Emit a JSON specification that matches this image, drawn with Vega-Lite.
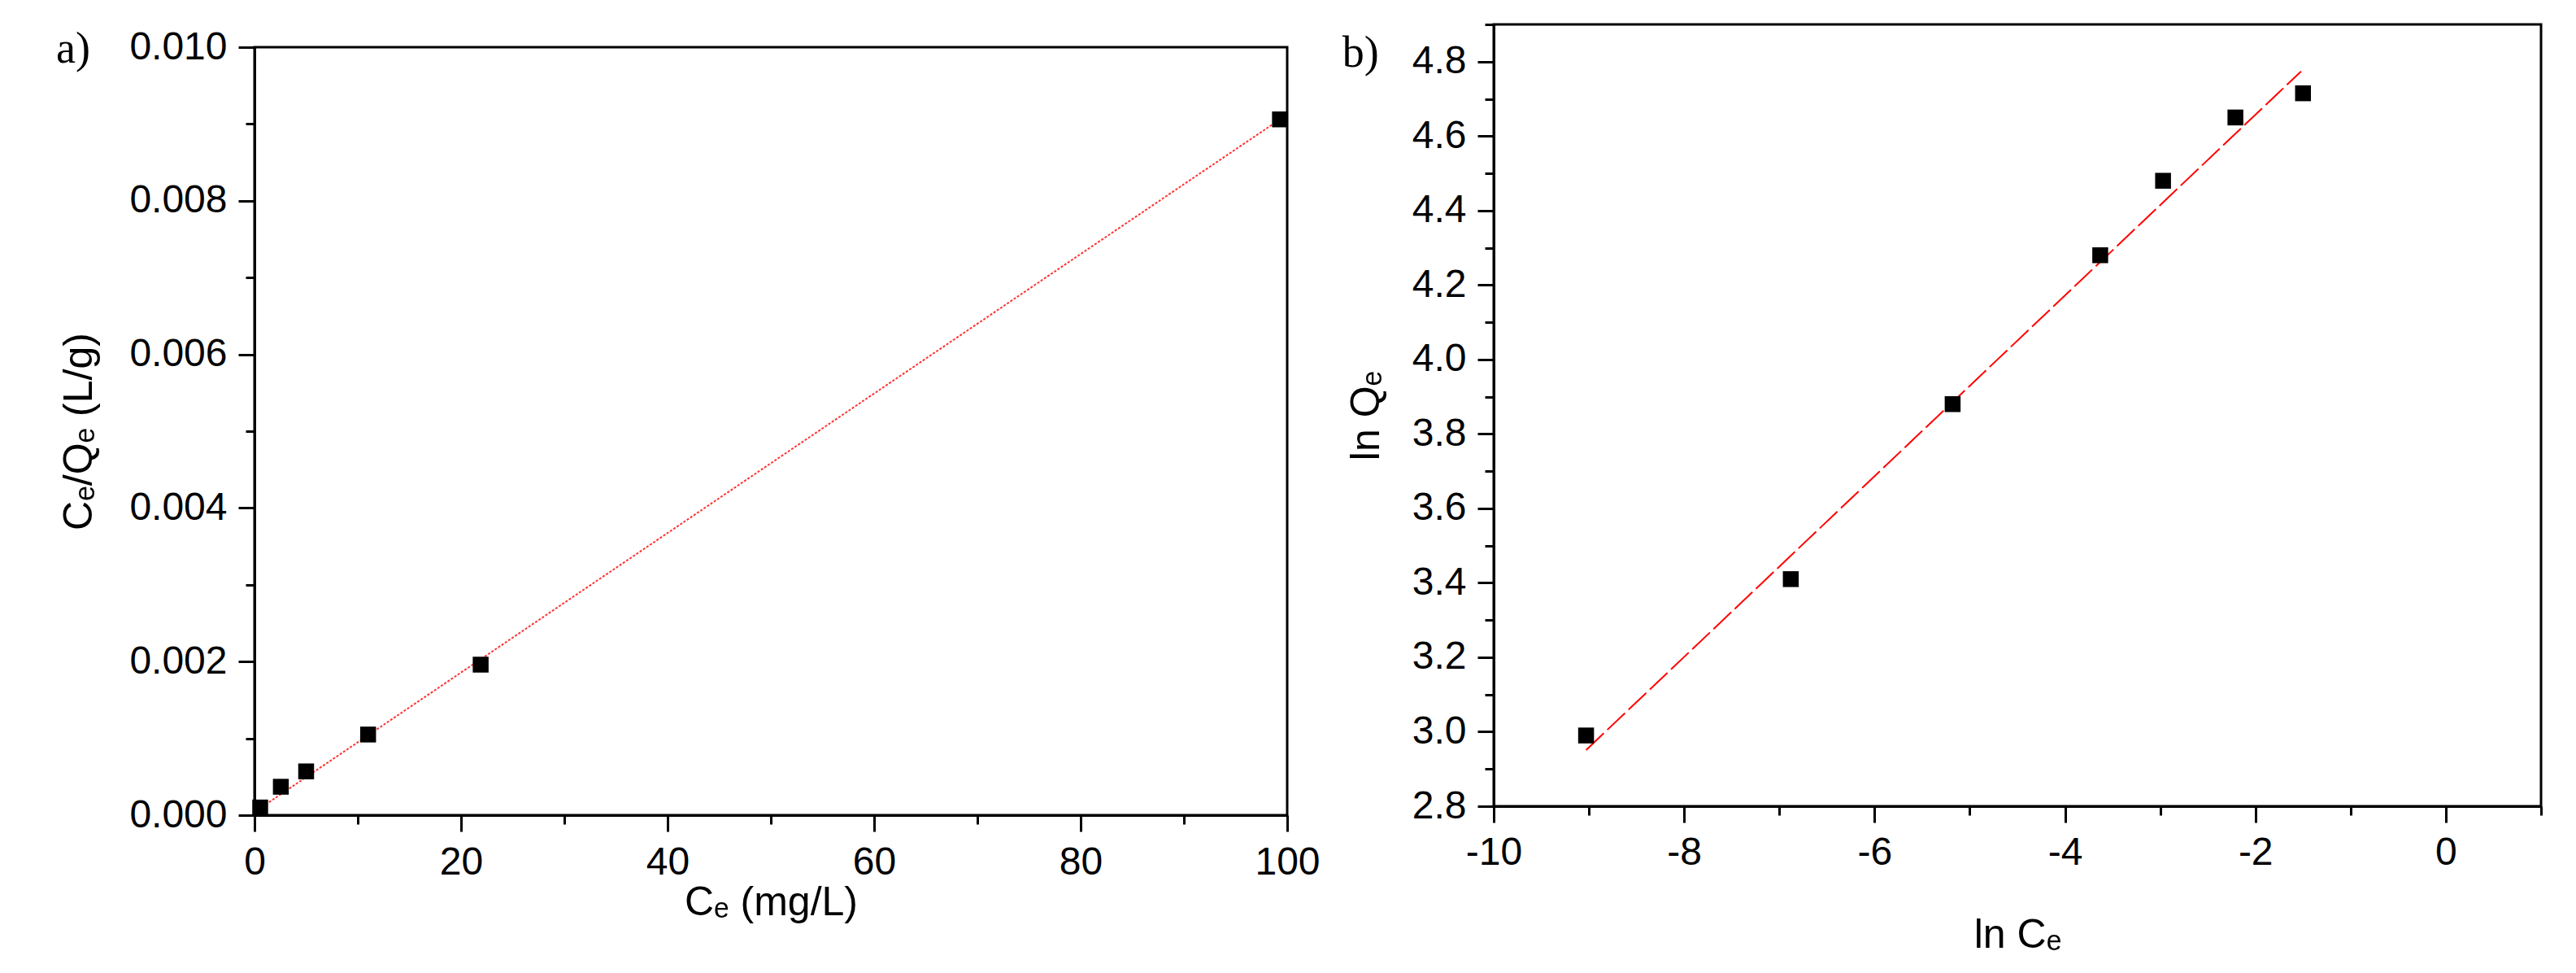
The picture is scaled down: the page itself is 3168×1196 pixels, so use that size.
{
  "$schema": "https://vega.github.io/schema/vega-lite/v6.json",
  "background": "white",
  "padding": {"left": 67, "top": 4, "right": 5, "bottom": 5},
  "spacing": 24,
  "config": {
    "view": {"stroke": "black", "strokeWidth": 3},
    "axis": {
      "labelFont": "Liberation Sans", "titleFont": "Liberation Sans",
      "labelFontSize": 48, "titleFontSize": 50, "titleFontWeight": "normal",
      "labelColor": "black", "titleColor": "black", "tickColor": "black",
      "domainColor": "black", "domainWidth": 3, "tickWidth": 3, "grid": false,
      "labelFlush": false, "labelOverlap": false
    }
  },
  "hconcat": [
    {
      "spacing": 0,
      "vconcat": [
        {
          "width": 1270, "height": 2,
          "view": {"stroke": null},
          "data": {"values": [{"gap": 0}]},
          "mark": {"type": "point", "opacity": 0, "size": 1},
          "encoding": {}
        },
        {
          "width": 1270, "height": 944,
          "layer": [
            {
              "data": {"values": [{"ce": 0.1, "cq": 0.00005}, {"ce": 99.3, "cq": 0.00906}]},
              "mark": {"type": "line", "color": "#ff3333", "strokeWidth": 2, "strokeDash": [3, 2]},
              "encoding": {
                "x": {"field": "ce", "type": "quantitative",
                  "scale": {"domain": [0, 100], "nice": false, "zero": false},
                  "axis": {"title": "Cₑ (mg/L)", "values": [0,10,20,30,40,50,60,70,80,90,100], "format": "d",
                    "labelExpr": "datum.value % 20 === 0 ? datum.label : ''",
                    "tickSize": {"condition": {"test": "datum.value % 20 !== 0", "value": 11}, "value": 20},
                    "labelPadding": 14, "titlePadding": 0}},
                "y": {"field": "cq", "type": "quantitative",
                  "scale": {"domain": [0, 0.01], "nice": false, "zero": false},
                  "axis": {"title": "Cₑ/Qₑ (L/g)", "values": [0,0.001,0.002,0.003,0.004,0.005,0.006,0.007,0.008,0.009,0.01], "format": ".3f",
                    "labelExpr": "round(datum.value*1000) % 2 === 0 ? datum.label : ''",
                    "tickSize": {"condition": {"test": "round(datum.value*1000) % 2 !== 0", "value": 11}, "value": 20},
                    "labelPadding": 14, "titlePadding": 36}}
              }
            },
            {
              "data": {"values": [
                {"ce": 0.55, "cq": 0.0001},
                {"ce": 2.55, "cq": 0.00037},
                {"ce": 5.0, "cq": 0.00057},
                {"ce": 11.0, "cq": 0.00105},
                {"ce": 21.9, "cq": 0.00196},
                {"ce": 99.3, "cq": 0.00906}
              ]},
              "mark": {"type": "point", "shape": "square", "filled": true, "color": "black", "opacity": 1, "size": 380},
              "encoding": {
                "x": {"field": "ce", "type": "quantitative"},
                "y": {"field": "cq", "type": "quantitative"}
              }
            },
            {
              "data": {"values": [{"panel": "a)"}]},
              "mark": {"type": "text", "font": "Liberation Serif", "fontSize": 54, "color": "black", "align": "left", "baseline": "alphabetic", "clip": false},
              "encoding": {
                "x": {"datum": -19.21, "type": "quantitative"},
                "y": {"datum": 0.0098, "type": "quantitative"},
                "text": {"field": "panel"}
              }
            }
          ]
        }
      ]
    },
    {
      "width": 1288, "height": 961,
      "layer": [
        {
          "data": {"values": [{"lnce": -9.03, "lnqe": 2.951}, {"lnce": -1.52, "lnqe": 4.774}]},
          "mark": {"type": "line", "color": "#ff0000", "strokeWidth": 2, "strokeDash": [30, 6]},
          "encoding": {
            "x": {"field": "lnce", "type": "quantitative",
              "scale": {"domain": [-10, 1], "nice": false, "zero": false},
              "axis": {"title": "ln Cₑ", "values": [-10,-9,-8,-7,-6,-5,-4,-3,-2,-1,0,1], "format": "d",
                "labelExpr": "datum.value % 2 === 0 ? replace(datum.label, '\u2212', '-') : ''",
                "tickSize": {"condition": {"test": "datum.value % 2 !== 0", "value": 11}, "value": 20},
                "labelPadding": 13, "titlePadding": 52}},
            "y": {"field": "lnqe", "type": "quantitative",
              "scale": {"domain": [2.8, 4.9], "nice": false, "zero": false},
              "axis": {"title": "ln Qₑ", "values": [2.8,2.9,3.0,3.1,3.2,3.3,3.4,3.5,3.6,3.7,3.8,3.9,4.0,4.1,4.2,4.3,4.4,4.5,4.6,4.7,4.8,4.9], "format": ".1f",
                "labelExpr": "round(datum.value*10) % 2 === 0 ? datum.label : ''",
                "tickSize": {"condition": {"test": "round(datum.value*10) % 2 !== 0", "value": 11}, "value": 20},
                "labelPadding": 14, "titlePadding": 31}}
          }
        },
        {
          "data": {"values": [
            {"lnce": -9.03, "lnqe": 2.99},
            {"lnce": -6.88, "lnqe": 3.41},
            {"lnce": -5.18, "lnqe": 3.88},
            {"lnce": -3.63, "lnqe": 4.28},
            {"lnce": -2.97, "lnqe": 4.48},
            {"lnce": -2.21, "lnqe": 4.65},
            {"lnce": -1.50, "lnqe": 4.715}
          ]},
          "mark": {"type": "point", "shape": "square", "filled": true, "color": "black", "opacity": 1, "size": 380},
          "encoding": {
            "x": {"field": "lnce", "type": "quantitative"},
            "y": {"field": "lnqe", "type": "quantitative"}
          }
        },
        {
          "data": {"values": [{"panel": "b)"}]},
          "mark": {"type": "text", "font": "Liberation Serif", "fontSize": 54, "color": "black", "align": "left", "baseline": "alphabetic", "clip": false},
          "encoding": {
            "x": {"datum": -11.59, "type": "quantitative"},
            "y": {"datum": 4.786, "type": "quantitative"},
            "text": {"field": "panel"}
          }
        }
      ]
    }
  ]
}
